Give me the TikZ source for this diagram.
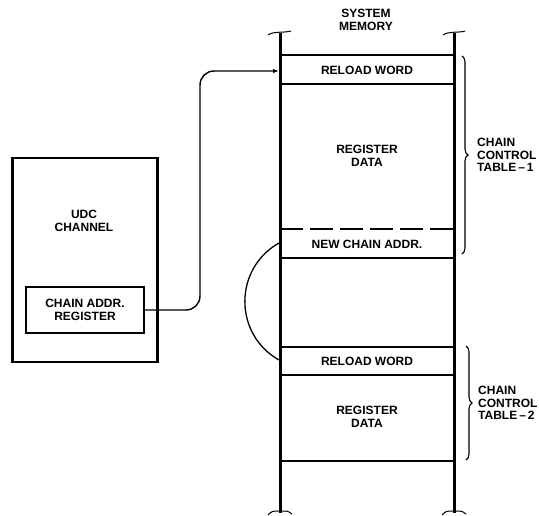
\documentclass[tikz,border=0pt]{standalone}
\usepackage{fontspec}
\setmainfont{Liberation Sans}
\usetikzlibrary{arrows.meta,positioning,calc,decorations.pathreplacing}

\begin{document}
\begin{tikzpicture}[x=1pt,y=-1pt,
    lbl/.style={font=\fontsize{12}{12.5}\selectfont\bfseries,align=center,inner sep=0pt},
    side/.style={lbl,align=left,anchor=west},
    memline/.style={line width=3pt},
    rowline/.style={line width=2pt},
    brk/.style={line width=1pt},
    conn/.style={line width=1.4pt,rounded corners=14pt},
    brc/.style={decorate,decoration={brace,amplitude=6pt},line width=1.1pt}]
  \useasboundingbox (0,0) rectangle (539,515);

  % Memory columns with break marks
  \draw[memline] (280,33) -- (280,513);
  \draw[memline] (454,33) -- (454,513);
  \draw[brk] (268,35) .. controls (273,31) and (285,33) .. (291,31);
  \draw[brk] (443,35) .. controls (448,31) and (460,33) .. (465,31);
  \draw[brk] (268,515) .. controls (272,511) .. (280,511) .. controls (288,511) .. (292,514);
  \draw[brk] (442,515) .. controls (446,511) .. (454,511) .. controls (462,511) .. (466,514);
  \node[lbl] (sysmem) at (366,20) {SYSTEM\\MEMORY};

  % Memory words
  \foreach \y in {55,84,258,347,375,461}{
    \draw[rowline] (280,\y) -- (454,\y);
  }
  \draw[rowline,dash pattern=on 23pt off 7pt] (280,229) -- (454,229);
  \node[lbl] (reload1) at (367,70) {RELOAD WORD};
  \node[lbl] (regdata1) at (367,156) {REGISTER\\DATA};
  \node[lbl] (newaddr) at (367,244) {NEW CHAIN ADDR.};
  \node[lbl] (reload2) at (367,361) {RELOAD WORD};
  \node[lbl] (regdata2) at (367,417) {REGISTER\\DATA};

  % Chain control tables
  \draw[brc] (462,56) -- (462,254);
  \node[side] (cct1) at (477,155) {CHAIN\\CONTROL\\TABLE\,--\,1};
  \draw[brc] (466,346) -- (466,460);
  \node[side] (cct2) at (478,403) {CHAIN\\CONTROL\\TABLE\,--\,2};

  % UDC channel
  \node[draw,line width=2.2pt,minimum width=145pt,minimum height=204pt,inner sep=0pt] (udc) at (85,260) {};
  \node[lbl] (udclbl) at (84,221) {UDC\\CHANNEL};
  \node[draw,lbl,line width=2.2pt,minimum width=118pt,minimum height=46pt] (reg) at (85,310) {CHAIN ADDR.\\REGISTER};

  % Links
  \coordinate (bend) at (200,71);
  \coordinate (rw1) at (279,71);
  \draw[conn,-{Latex[length=6pt,width=4.5pt]}] (reg.east) -| (bend) -- (rw1);
  \coordinate (nca) at (279,243);
  \coordinate (rw2) at (279,360);
  \draw[line width=1.3pt] (nca) .. controls (233.5,268.7) and (233.5,334.3) .. (rw2);
\end{tikzpicture}
\end{document}
